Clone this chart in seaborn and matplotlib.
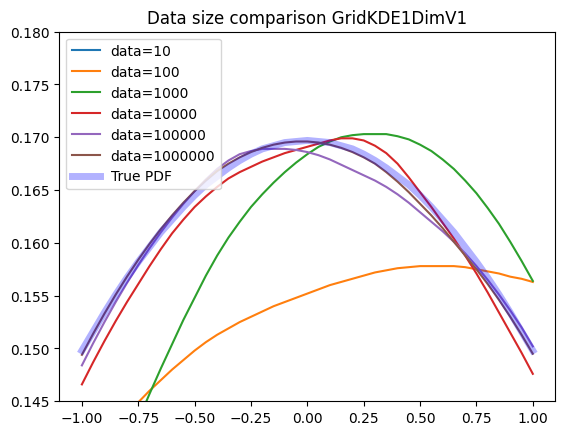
import numpy as np
import pandas as pd
import matplotlib
matplotlib.use('Agg')
import matplotlib.pyplot as plt
import seaborn as sns

# grid where each density estimate was evaluated
x_grid = [-1.00, -0.95, -0.90, -0.85, -0.80, -0.75, -0.70, -0.65, -0.60, -0.55, -0.50,
          -0.45, -0.40, -0.35, -0.30, -0.25, -0.20, -0.15, -0.10, -0.05, 0.00,
          0.05, 0.10, 0.15, 0.20, 0.25, 0.30, 0.35, 0.40, 0.45, 0.50,
          0.55, 0.60, 0.65, 0.70, 0.75, 0.80, 0.85, 0.90, 0.95, 1.00]

# estimates per data size
est_10 = [0.1180, 0.1188, 0.1195, 0.1203, 0.1210, 0.1216, 0.1222, 0.1228, 0.1233, 0.1238, 0.1242,
          0.1246, 0.1249, 0.1252, 0.1254, 0.1256, 0.1257, 0.1258, 0.1258, 0.1258, 0.1257,
          0.1256, 0.1254, 0.1252, 0.1249, 0.1246, 0.1242, 0.1238, 0.1233, 0.1228, 0.1222,
          0.1216, 0.1209, 0.1202, 0.1194, 0.1186, 0.1177, 0.1168, 0.1158, 0.1148, 0.1137]
est_100 = [0.1390, 0.1403, 0.1415, 0.1427, 0.1438, 0.1449, 0.1460, 0.1470, 0.1480, 0.1489, 0.1498,
           0.1506, 0.1513, 0.1519, 0.1525, 0.1530, 0.1535, 0.1540, 0.1544, 0.1548, 0.1552,
           0.1556, 0.1560, 0.1563, 0.1566, 0.1569, 0.1572, 0.1574, 0.1576, 0.1577, 0.1578,
           0.1578, 0.1578, 0.1578, 0.1577, 0.1575, 0.1573, 0.1571, 0.1568, 0.1566, 0.1563]
est_1000 = [0.1292, 0.1322, 0.1351, 0.1379, 0.1406, 0.1432, 0.1457, 0.1481, 0.1504, 0.1527, 0.1548,
            0.1569, 0.1588, 0.1605, 0.1620, 0.1634, 0.1646, 0.1657, 0.1667, 0.1676, 0.1684,
            0.1691, 0.1696, 0.1700, 0.1702, 0.1703, 0.1703, 0.1703, 0.1701, 0.1698, 0.1693,
            0.1687, 0.1679, 0.1670, 0.1659, 0.1647, 0.1633, 0.1618, 0.1601, 0.1583, 0.1564]
est_10000 = [0.1466, 0.1487, 0.1507, 0.1526, 0.1544, 0.1561, 0.1578, 0.1594, 0.1609, 0.1622, 0.1634,
             0.1644, 0.1653, 0.1661, 0.1667, 0.1672, 0.1677, 0.1681, 0.1685, 0.1688, 0.1691,
             0.1694, 0.1697, 0.1699, 0.1699, 0.1697, 0.1692, 0.1685, 0.1675, 0.1662, 0.1648,
             0.1634, 0.1619, 0.1604, 0.1588, 0.1571, 0.1553, 0.1534, 0.1515, 0.1496, 0.1476]
est_100000 = [0.1484, 0.1505, 0.1525, 0.1544, 0.1562, 0.1579, 0.1595, 0.1610, 0.1624, 0.1637, 0.1649,
              0.1660, 0.1670, 0.1678, 0.1684, 0.1687, 0.1689, 0.1689, 0.1689, 0.1688, 0.1686,
              0.1683, 0.1679, 0.1674, 0.1669, 0.1664, 0.1659, 0.1653, 0.1646, 0.1638, 0.1629,
              0.1620, 0.1611, 0.1601, 0.1590, 0.1578, 0.1565, 0.1551, 0.1536, 0.1520, 0.1502]
est_1000000 = [0.1494, 0.1514, 0.1533, 0.1551, 0.1568, 0.1584, 0.1599, 0.1613, 0.1626, 0.1638, 0.1649,
               0.1659, 0.1668, 0.1675, 0.1681, 0.1686, 0.1690, 0.1693, 0.1695, 0.1696, 0.1696,
               0.1695, 0.1693, 0.1690, 0.1686, 0.1681, 0.1675, 0.1667, 0.1658, 0.1648, 0.1637,
               0.1626, 0.1614, 0.1601, 0.1588, 0.1575, 0.1561, 0.1546, 0.1530, 0.1513, 0.1495]
true_pdf = [0.1498, 0.1516, 0.1534, 0.1551, 0.1567, 0.1582, 0.1596, 0.1610, 0.1622, 0.1634, 0.1645,
            0.1655, 0.1663, 0.1671, 0.1678, 0.1684, 0.1689, 0.1692, 0.1695, 0.1696, 0.1697,
            0.1696, 0.1695, 0.1692, 0.1689, 0.1684, 0.1678, 0.1671, 0.1663, 0.1655, 0.1645,
            0.1634, 0.1622, 0.1610, 0.1596, 0.1582, 0.1567, 0.1551, 0.1534, 0.1516, 0.1498]

sizes = ['10', '100', '1000', '10000', '100000', '1000000']
estimates = [est_10, est_100, est_1000, est_10000, est_100000, est_1000000]

fig, ax = plt.subplots(figsize=(6.4, 4.8), dpi=100)
colors = sns.color_palette('tab10')

for i, (n, est) in enumerate(zip(sizes, estimates)):
    df = pd.DataFrame({'x': x_grid, 'density': est})
    sns.lineplot(data=df, x='x', y='density', color=colors[i], label=f'data={n}', ax=ax)

sns.lineplot(x=x_grid, y=true_pdf, color='blue', alpha=0.3, linewidth=5, label='True PDF', ax=ax)

ax.set_ylim(0.145, 0.18)
ax.set_xlabel('')
ax.set_ylabel('')
ax.set_title('Data size comparison GridKDE1DimV1')
ax.legend(loc='upper left')
plt.savefig('out.png', bbox_inches='tight')
